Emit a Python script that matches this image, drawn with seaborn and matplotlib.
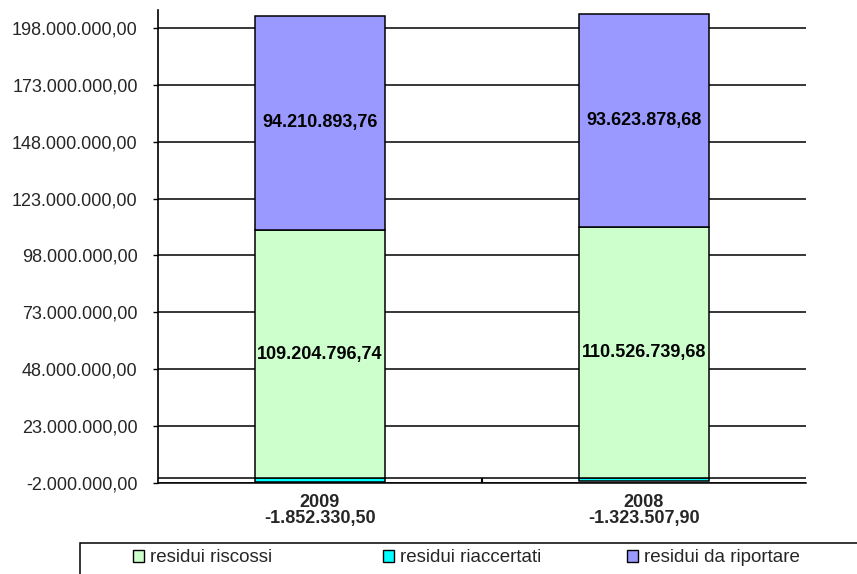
import matplotlib
matplotlib.use("Agg")
import matplotlib.pyplot as plt
from matplotlib.patches import Patch, Rectangle
import pandas as pd
import seaborn as sns

# Residui: riscossi, riaccertati (negativi) e da riportare per anno
years = ["2009", "2008"]
riaccertati = [-1852330.50, -1323507.90]
riscossi = [109204796.74, 110526739.68]
da_riportare = [94210893.76, 93623878.68]

series_names = ["residui riscossi", "residui riaccertati", "residui da riportare"]
series_colors = ["#CCFFCC", "#00FFFF", "#9999FF"]

y_ticks = [-2000000, 23000000, 48000000, 73000000, 98000000,
           123000000, 148000000, 173000000, 198000000]


def fmt_it(v):
    s = f"{v:,.2f}"
    return s.replace(",", "#").replace(".", ",").replace("#", ".")


sns.set_style("white")
plt.rcParams["font.family"] = ["Liberation Sans", "DejaVu Sans"]

df = pd.DataFrame({
    "anno": years,
    "riaccertati": riaccertati,
    "riscossi": riscossi,
    "da_riportare": da_riportare,
})

W, H = 857, 574
fig = plt.figure(figsize=(W / 100, H / 100), dpi=100)
ax = fig.add_axes([158 / W, 1 - 482.7 / H, (806 - 158) / W, (482.7 - 10) / H])

bar_kw = dict(order=years, width=0.4, edgecolor="black", linewidth=1.1,
              errorbar=None, saturation=1, ax=ax, zorder=3)

sns.barplot(data=df, x="anno", y="riaccertati", color=series_colors[1],
            bottom=0, **bar_kw)
c_riacc = ax.containers[-1]
sns.barplot(data=df, x="anno", y="riscossi", color=series_colors[0],
            bottom=0, **bar_kw)
c_risc = ax.containers[-1]
sns.barplot(data=df, x="anno", y="da_riportare", color=series_colors[2],
            bottom=df["riscossi"].to_numpy(), **bar_kw)
c_ripo = ax.containers[-1]

ax.bar_label(c_risc, labels=[fmt_it(v) for v in riscossi], label_type="center",
             fontsize=13, fontweight="bold", color="black")
ax.bar_label(c_ripo, labels=[fmt_it(v) for v in da_riportare], label_type="center",
             fontsize=13, fontweight="bold", color="black")

ax.set_xlim(-0.5, 1.5)
ax.set_ylim(-2000000, 206000000)
ax.set_xlabel("")
ax.set_ylabel("")

ax.set_yticks(y_ticks)
ax.set_yticklabels([fmt_it(v) for v in y_ticks])
ax.tick_params(axis="y", length=3.6, width=1.0, pad=11, labelsize=13,
               color="black", left=True)

ax.set_xticks(range(len(years)))
ax.set_xticklabels([f"{y}\n{fmt_it(r)}" for y, r in zip(years, riaccertati)],
                   fontsize=13, fontweight="bold", linespacing=0.95)
ax.tick_params(axis="x", length=0, pad=8)
ax.set_xticks([0.5], minor=True)
ax.tick_params(axis="x", which="minor", direction="in", length=3.4, width=1.5,
               color="black", bottom=True)

ax.yaxis.grid(True, color="black", linewidth=1.1)
ax.xaxis.grid(False)
ax.set_axisbelow(True)
ax.axhline(0, color="black", linewidth=1.1, zorder=1)

for side in ["top", "right"]:
    ax.spines[side].set_visible(False)
ax.spines["left"].set_color("black")
ax.spines["left"].set_linewidth(1.2)
ax.spines["bottom"].set_color("black")
ax.spines["bottom"].set_linewidth(1.1)

# Legend box at the bottom, one entry per series
fig.add_artist(Rectangle((80 / W, -0.05), 1.0, (H - 543) / H + 0.05,
                         transform=fig.transFigure, fill=False,
                         edgecolor="black", linewidth=1.1))
entry_x = [133, 383, 627]
for name, col, x0 in zip(series_names, series_colors, entry_x):
    fig.legend([Patch(facecolor=col, edgecolor="black", linewidth=1.0)], [name],
               frameon=False, loc="center left",
               bbox_to_anchor=(x0 / W, 1 - 558 / H), fontsize=13.5,
               handlelength=0.6, handleheight=0.6, handletextpad=0.3,
               borderaxespad=0, borderpad=0)

fig.savefig("out.png", dpi=100)
